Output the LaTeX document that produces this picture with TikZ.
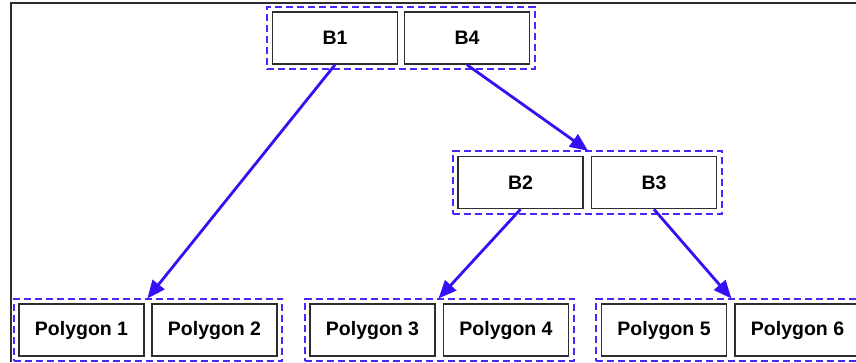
\documentclass[tikz,border=0pt]{standalone}
\usepackage{fontspec}
\setmainfont{Liberation Sans}
\usetikzlibrary{arrows.meta,fit}
\definecolor{arrowblue}{RGB}{55,15,245}
\definecolor{dashblue}{RGB}{70,40,250}
\definecolor{boxgray}{RGB}{45,45,45}
\tikzset{
  treebox/.style={draw=boxgray, line width=1.6pt, fill=white, minimum width=125pt, minimum height=52pt, inner sep=0pt, font=\fontsize{19.5}{23}\selectfont\bfseries, text=black},
  groupbox/.style={draw=dashblue, line width=2pt, dash pattern=on 7pt off 4pt, inner sep=4.5pt},
  link/.style={draw=arrowblue, line width=2.8pt, -{Triangle[length=18pt,width=15pt]}, shorten >=-1pt}
}
\begin{document}
\begin{tikzpicture}[x=1pt,y=-1pt]
\useasboundingbox (0,0) rectangle (856,362);
\fill[white] (0,0) rectangle (856,362);
% frame
\draw[line width=1.6pt, draw=boxgray] (11,362) -- (11,3) -- (870,3);
% top
\node[treebox] (b1) at (335,38) {B1};
\node[treebox] (b4) at (467,38) {B4};
\node[groupbox, fit=(b1)(b4)] (gtop) {};
% middle
\node[treebox] (b2) at (520.5,182.5) {B2};
\node[treebox] (b3) at (654,182.5) {B3};
\node[groupbox, fit=(b2)(b3)] (gmid) {};
% bottom
\node[treebox] (p1) at (81.5,330) {Polygon 1};
\node[treebox] (p2) at (214.5,330) {Polygon 2};
\node[groupbox, fit=(p1)(p2)] (g1) {};
\node[treebox] (p3) at (372.5,330) {Polygon 3};
\node[treebox] (p4) at (506,330) {Polygon 4};
\node[groupbox, fit=(p3)(p4)] (g2) {};
\node[treebox] (p5) at (664,330) {Polygon 5};
\node[treebox] (p6) at (797.5,330) {Polygon 6};
\node[groupbox, fit=(p5)(p6)] (g3) {};
% arrows
\draw[link] (b1.south) -- (g1.north);
\draw[link] (b4.south) -- (gmid.north);
\draw[link] (b2.south) -- (g2.north);
\draw[link] (b3.south) -- (g3.north);
\end{tikzpicture}
\end{document}
